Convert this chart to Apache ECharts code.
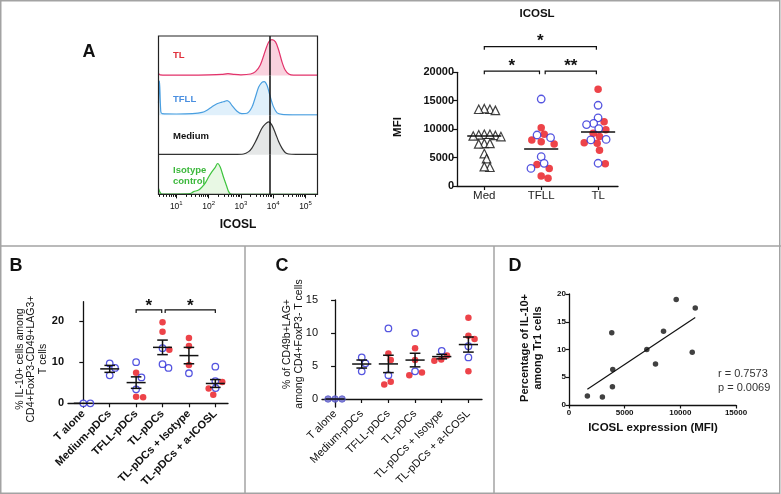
<!DOCTYPE html>
<html><head><meta charset="utf-8">
<script src="https://cdn.jsdelivr.net/npm/echarts@6/dist/echarts.min.js"></script>
<style>html,body{margin:0;padding:0;background:#fff}#c{width:781px;height:494px}</style>
</head><body><div id="c"></div>
<script>
// ================= DATA =================
// Panel A – histograms (x = log10 ICOSL fluorescence, y = normalised count)
const histLabels = ['TL', 'TFLL', 'Medium', 'Isotype\ncontrol'];
const histTL_x = [0.45,0.5,1.0,2.0,2.4,2.6,2.8,3.0,3.3,3.45,3.6,3.76,3.86,3.96,4.07,4.17,4.27,4.37,4.48,4.63,5.0,5.37];
const histTL_y = [0.06,0.02,0.01,0.02,0.03,0.05,0.03,0.02,0.04,0.1,0.27,0.64,0.85,0.91,0.85,0.64,0.35,0.14,0.04,0.01,0.01,0.01];
const histTFLL_x = [0.45,0.48,0.52,0.56,1.0,1.5,1.8,1.95,2.1,2.26,2.41,2.5,2.57,2.65,2.72,2.88,3.03,3.19,3.34,3.45,3.55,3.65,3.72,3.81,3.91,4.01,4.12,4.27,4.6,5.37];
const histTFLL_y = [0.3,0.87,0.1,0.04,0.03,0.04,0.07,0.125,0.21,0.29,0.33,0.35,0.37,0.33,0.25,0.1,0.04,0.05,0.2,0.46,0.71,0.83,0.85,0.75,0.46,0.21,0.06,0.02,0.01,0.01];
const histMed_x = [0.45,1.0,2.0,2.8,3.08,3.24,3.34,3.45,3.55,3.65,3.76,3.86,3.96,4.07,4.17,4.27,4.37,4.48,4.7,5.37];
const histMed_y = [0.01,0.01,0.01,0.01,0.02,0.08,0.17,0.33,0.5,0.67,0.78,0.83,0.75,0.54,0.33,0.17,0.06,0.02,0.01,0.01];
const histIso_x = [0.45,0.5,0.55,1.0,1.43,1.54,1.69,1.8,1.9,2.0,2.1,2.21,2.28,2.36,2.46,2.55,2.62,2.69,3.0,5.37];
const histIso_y = [0.15,0.05,0.01,0.01,0.02,0.07,0.11,0.19,0.29,0.44,0.57,0.69,0.78,0.69,0.44,0.23,0.07,0.01,0,0];
const gateLog = 3.89;
const histTicks = [1, 2, 3, 4, 5];

// Panel A – ICOSL MFI scatter
const aCats = ['Med', 'TFLL', 'TL'];
const aMed = [13500,13300,13600,13500,9100,9000,8900,9100,8800,8700,7500,7500,7400,5700,4800,3300,3400];
const aTFLL_red = [10250,9100,7800,7400,8100,3100,3800,1350,1750];
const aTFLL_blue = [15300,8970,8500,5150,3990,3100];
const aTL_red = [17000,11300,9900,9300,8700,7600,7500,6300,3900];
const aTL_blue = [14200,12000,11000,10800,10100,8200,8100,4000];
const aLines = [8800, 6500, 9500];
const aBrackets = [[1, 1.97, 20200], [2.07, 2.97, 20200], [1, 2.97, 24500]];
const aStars = ['*', '**', '*'];

// Panels B & C
const bcCats = ['T alone','Medium-pDCs','TFLL-pDCs','TL-pDCs','TL-pDCs + Isotype','TL-pDCs + a-ICOSL'];
const bBlue = [[0,0],[9.7,8.6,6.8],[10.0,6.3,3.4],[13.4,8.6,9.5],[7.3],[8.9,5.4,3.7]];
const bRed  = [[],[],[7.4,1.5,1.6],[19.7,17.4,13.0],[15.9,13.9,9.3],[5.2,3.6,2.1]];
const bBrackets = [[2, 2.97, 22.7], [3.1, 5, 22.7]];
const bStars = ['*', '*'];
const bTicks = [0, 10, 20];

const cAlone = [0, 0, 0];
const cBlue = [[],[6.3,5.4,4.2],[10.7,3.6],[10.0,4.2],[7.3],[8.0,6.3]];
const cRed  = [[],[],[6.9,5.9,2.2,2.6],[7.7,5.9,3.6,4.0],[6.6,5.8,6.0],[12.3,9.6,9.1,4.2]];
const cTicks = [0, 5, 10, 15];

// Panel D
const dX = [1650,3000,3840,3930,3900,6990,7770,8490,9630,11070,11340];
const dY = [1.6,1.45,13.0,6.4,3.3,10.0,7.4,13.3,19.0,9.5,17.5];
const dStats = ['r = 0.7573', 'p = 0.0069'];

// ================= LAYOUT / STYLE =================
const FONT = "'Liberation Sans', Arial, Helvetica, sans-serif";
const INK = '#111';
const RED = '#e8141c', BLUE = '#2a2ad8', PURPLE = '#6c6cd0';
const hRows = [36, 75.6, 115.2, 154.8];
const hRowH = 39.6;
const hL = 158.5, hW = 159;
const HX = [0.45, 5.37];
const GA = {left:457, top:72.3, width:161, height:113.7}, AX=[0.52,3.35], AY=[0,20000];
const GB = {left:68, top:301.7, width:160, height:105.3}, BX=[-0.58,5.48], BY=[-0.9,24.7];
const GC = {left:322, top:300, width:160, height:107}, CX=[-0.49,5.51], CY=[-1.21,15];
const GD = {left:569, top:294, width:167, height:111};

const zip = (xs, ys) => xs.map((x, i) => [x, ys[i]]);
const mean = a => a.reduce((s, v) => s + v, 0) / a.length;
const sem = a => { if (a.length < 2) return 0; const m = mean(a); return Math.sqrt(a.reduce((s,v)=>s+(v-m)*(v-m),0)/(a.length-1))/Math.sqrt(a.length); };

// beeswarm: offsets (in x-units) so markers of diameter d (px) don't overlap
function swarm(vals, unitX, unitY, d) {
  const idx = vals.map((v, i) => i).sort((a, b) => vals[b] - vals[a]);
  const placed = [], off = new Array(vals.length).fill(0);
  for (const i of idx) {
    const y = vals[i] * unitY, cands = [0];
    for (const p of placed) { const dy = Math.abs(p.y - y); if (dy < d) { const dx = Math.sqrt(d*d - dy*dy) + 0.01; cands.push(p.x + dx, p.x - dx); } }
    cands.sort((a, b) => Math.abs(a) - Math.abs(b));
    let best = 0;
    for (const c of cands) { if (placed.every(p => (p.x-c)*(p.x-c) + (p.y-y)*(p.y-y) >= d*d - 0.02)) { best = c; break; } }
    placed.push({x: best, y}); off[i] = best / unitX;
  }
  return off;
}
function layoutGroups(groups, catX, unitX, unitY, d) {
  const out = {};
  groups.forEach((g, k) => {
    const items = [];
    Object.keys(g).forEach(cls => g[cls].forEach(v => items.push({cls, v})));
    const dd = typeof d === 'function' ? d(k) : d;
    const off = swarm(items.map(it => it.v), unitX, unitY, dd);
    items.forEach((it, i) => { (out[it.cls] = out[it.cls] || []).push([catX(k) + off[i], it.v]); });
  });
  return out;
}

const aUX = GA.width / (AX[1]-AX[0]), aUY = GA.height / (AY[1]-AY[0]);
const aPts = layoutGroups([{tri: aMed}, {red: aTFLL_red, blue: aTFLL_blue}, {red: aTL_red, blue: aTL_blue}], k => k + 1, aUX, aUY, k => k === 0 ? 5.6 : 7.2);
const bUX = GB.width / (BX[1]-BX[0]), bUY = GB.height / (BY[1]-BY[0]);
const bPts = layoutGroups(bcCats.map((c, k) => ({blue: bBlue[k], red: bRed[k]})), k => k, bUX, bUY, 7);
const cUX = GC.width / (CX[1]-CX[0]), cUY = GC.height / (CY[1]-CY[0]);
const cPts = layoutGroups(bcCats.map((c, k) => k === 0 ? {alone: cAlone} : ({blue: cBlue[k], red: cRed[k]})), k => k, cUX, cUY, 7);

const bAll = bcCats.map((c, k) => bBlue[k].concat(bRed[k]));
const cAll = bcCats.map((c, k) => k === 0 ? cAlone : cBlue[k].concat(cRed[k]));
const bStats = bAll.map((a, k) => [k, mean(a), sem(a)]);
const cStats = cAll.map((a, k) => [k, mean(a), sem(a)]);

// regression for D
const mx = mean(dX), my = mean(dY);
const slope = dX.reduce((s, x, i) => s + (x-mx)*(dY[i]-my), 0) / dX.reduce((s, x) => s + (x-mx)*(x-mx), 0);
const x0 = Math.min(...dX), x1 = Math.max(...dX);
const dLine = [[x0, my + slope*(x0-mx)], [x1, my + slope*(x1-mx)]];

// minor log ticks
const minorTicks = [];
for (let dcd = 0; dcd <= 5; dcd++) for (let k = 2; k <= 9; k++) { const v = dcd + Math.log10(k); if (v > HX[0] && v < HX[1]) minorTicks.push(v); }

// ================= OPTION =================
const lblBold = (size) => ({color: INK, fontFamily: FONT, fontWeight: 'bold', fontSize: size});
const axLine = {show: true, lineStyle: {color: INK, width: 1.3}};
const plain = v => String(v);

const grids = hRows.map(t => ({left: hL, top: t, width: hW, height: hRowH})).concat([GA, GB, GC, GD]);

const xAxes = [];
for (let i = 0; i < 4; i++) {
  xAxes.push({type: 'value', gridIndex: i, min: HX[0], max: HX[1], show: i === 3,
    axisLine: {show: false}, splitLine: {show: false},
    axisTick: {show: i === 3, customValues: histTicks, length: 4, lineStyle: {color: INK}},
    axisLabel: {show: i === 3, customValues: histTicks, margin: 6, color: INK, fontFamily: FONT,
      formatter: v => '{b|10}{s|' + Math.round(v) + '}',
      rich: {b: {fontSize: 8.5, fontFamily: FONT, color: INK}, s: {fontSize: 6, fontFamily: FONT, color: INK, padding: [0,0,7,0]}}}});
}
xAxes.push({type: 'value', gridIndex: 3, min: HX[0], max: HX[1], position: 'bottom', axisLine: {show: false}, splitLine: {show: false},
  axisTick: {show: true, customValues: minorTicks, length: 2.5, lineStyle: {color: INK}}, axisLabel: {show: false}});
xAxes.push({type: 'value', gridIndex: 4, min: AX[0], max: AX[1], axisLine: axLine, splitLine: {show: false},
  axisTick: {customValues: [1,2,3], length: 4, lineStyle: {color: INK, width: 1.2}},
  axisLabel: {customValues: [1,2,3], formatter: v => aCats[Math.round(v)-1], color: '#222', fontFamily: FONT, fontSize: 11.5, margin: 4}});
xAxes.push({type: 'value', gridIndex: 5, min: BX[0], max: BX[1], axisLine: axLine, splitLine: {show: false},
  axisTick: {customValues: [0,1,2,3,4,5], length: 4, lineStyle: {color: INK, width: 1.2}},
  axisLabel: {customValues: [0,1,2,3,4,5], formatter: v => bcCats[Math.round(v)], rotate: 45, margin: 5, ...lblBold(11)}});
xAxes.push({type: 'value', gridIndex: 6, min: CX[0], max: CX[1], axisLine: axLine, splitLine: {show: false},
  axisTick: {customValues: [0,1,2,3,4,5], length: 4, lineStyle: {color: INK, width: 1.2}},
  axisLabel: {customValues: [0,1,2,3,4,5], formatter: v => bcCats[Math.round(v)], rotate: 45, margin: 5, color: INK, fontFamily: FONT, fontSize: 11}});
xAxes.push({type: 'value', gridIndex: 7, min: 0, max: 15000, interval: 5000, axisLine: axLine, splitLine: {show: false},
  axisTick: {length: 3.5, lineStyle: {color: INK, width: 1.2}}, axisLabel: {margin: 4, formatter: plain, ...lblBold(8)}});

const yAxes = [];
for (let i = 0; i < 4; i++) yAxes.push({type: 'value', gridIndex: i, min: 0, max: 1, show: false});
yAxes.push({type: 'value', gridIndex: 4, min: AY[0], max: AY[1], interval: 5000, axisLine: axLine, splitLine: {show: false},
  axisTick: {show: true, length: 4, lineStyle: {color: INK, width: 1.2}}, axisLabel: {margin: 3, formatter: plain, ...lblBold(11)}});
yAxes.push({type: 'value', gridIndex: 5, min: BY[0], max: BY[1], axisLine: axLine, splitLine: {show: false},
  axisTick: {show: true, customValues: bTicks, length: 4, lineStyle: {color: INK, width: 1.2}}, axisLabel: {customValues: bTicks, margin: 4, ...lblBold(11)}});
yAxes.push({type: 'value', gridIndex: 6, min: CY[0], max: CY[1], axisLine: axLine, splitLine: {show: false},
  axisTick: {show: true, customValues: cTicks, length: 4, lineStyle: {color: INK, width: 1.2}}, axisLabel: {customValues: cTicks, margin: 4, color: INK, fontFamily: FONT, fontSize: 11}});
yAxes.push({type: 'value', gridIndex: 7, min: 0, max: 20, interval: 5, axisLine: axLine, splitLine: {show: false},
  axisTick: {show: true, length: 3.5, lineStyle: {color: INK, width: 1.2}}, axisLabel: {margin: 3, ...lblBold(8)}});

const histSeries = [
  {x: histTL_x, y: histTL_y, line: '#e2336b', fill: '#f9d2de'},
  {x: histTFLL_x, y: histTFLL_y, line: '#4a9fe0', fill: '#e0f0fb'},
  {x: histMed_x, y: histMed_y, line: '#333333', fill: '#e5e7e7'},
  {x: histIso_x, y: histIso_y, line: '#3ec43e', fill: '#e8f8e4'}
].map((h, i) => ({
  type: 'line', xAxisIndex: i, yAxisIndex: i, data: zip(h.x, h.y), smooth: 0.3, symbol: 'none',
  lineStyle: {color: h.line, width: 1.2}, areaStyle: {color: h.fill, opacity: 1},
  markLine: {silent: true, symbol: ['none', 'none'], label: {show: false}, lineStyle: {color: INK, width: 1.5, type: 'solid'}, data: [{xAxis: gateLog}]}
}));

function errRender(halfMean, halfCap) {
  return (params, api) => {
    const x = api.value(0), m = api.value(1), s = api.value(2);
    const c = api.coord([x, m]), t = api.coord([x, m + s]), b = api.coord([x, m - s]);
    const hw = api.size([halfMean, 0])[0], hc = api.size([halfCap, 0])[0];
    const st = {stroke: INK, lineWidth: 1.5};
    const ch = [{type: 'line', shape: {x1: c[0]-hw, y1: c[1], x2: c[0]+hw, y2: c[1]}, style: st}];
    if (s > 0) {
      ch.push({type: 'line', shape: {x1: c[0], y1: t[1], x2: c[0], y2: b[1]}, style: st});
      ch.push({type: 'line', shape: {x1: c[0]-hc, y1: t[1], x2: c[0]+hc, y2: t[1]}, style: st});
      ch.push({type: 'line', shape: {x1: c[0]-hc, y1: b[1], x2: c[0]+hc, y2: b[1]}, style: st});
    }
    return {type: 'group', children: ch};
  };
}
function bracketRender(stars, drop, fs, lift) {
  return (params, api) => {
    const a = api.coord([api.value(0), api.value(2)]), b = api.coord([api.value(1), api.value(2)]);
    return {type: 'group', children: [
      {type: 'polyline', shape: {points: [[a[0], a[1]+drop], [a[0], a[1]], [b[0], b[1]], [b[0], b[1]+drop]]}, style: {stroke: INK, lineWidth: 1.2, fill: null}},
      {type: 'text', x: (a[0]+b[0])/2, y: a[1] - lift, style: {text: stars[params.dataIndex], fill: INK, font: 'bold ' + fs + 'px ' + FONT, align: 'center', verticalAlign: 'middle', textAlign: 'center', textVerticalAlign: 'middle'}}
    ]};
  };
}
const openCircle = (size) => ({symbol: 'circle', symbolSize: size, itemStyle: {color: '#fff', borderColor: BLUE, borderWidth: 1.3}});
const redCircle = (size) => ({symbol: 'circle', symbolSize: size, itemStyle: {color: RED}});

const series = histSeries.concat([
  {type: 'scatter', xAxisIndex: 5, yAxisIndex: 4, data: aPts.tri, symbol: 'triangle', symbolSize: 8.5, itemStyle: {color: '#fff', borderColor: INK, borderWidth: 1.2}},
  {type: 'scatter', xAxisIndex: 5, yAxisIndex: 4, data: aPts.red, ...redCircle(7.5)},
  {type: 'scatter', xAxisIndex: 5, yAxisIndex: 4, data: aPts.blue, ...openCircle(7.5)},
  {type: 'custom', xAxisIndex: 5, yAxisIndex: 4, data: aLines.map((v, k) => [k+1, v, 0]), renderItem: errRender(0.3, 0), z: 5},
  {type: 'custom', xAxisIndex: 5, yAxisIndex: 4, data: aBrackets, renderItem: bracketRender(aStars, 3, 17, 5), clip: false},
  {type: 'scatter', xAxisIndex: 6, yAxisIndex: 5, data: bPts.red, ...redCircle(6.5)},
  {type: 'scatter', xAxisIndex: 6, yAxisIndex: 5, data: bPts.blue, ...openCircle(6.5)},
  {type: 'custom', xAxisIndex: 6, yAxisIndex: 5, data: bStats, renderItem: errRender(0.36, 0.2), z: 5},
  {type: 'custom', xAxisIndex: 6, yAxisIndex: 5, data: bBrackets, renderItem: bracketRender(bStars, 3, 17, 4), clip: false},
  {type: 'scatter', xAxisIndex: 7, yAxisIndex: 6, data: cPts.alone, symbol: 'circle', symbolSize: 6.5, itemStyle: {color: PURPLE, borderColor: '#5555c8', borderWidth: 1}},
  {type: 'scatter', xAxisIndex: 7, yAxisIndex: 6, data: cPts.red, ...redCircle(6.5)},
  {type: 'scatter', xAxisIndex: 7, yAxisIndex: 6, data: cPts.blue, ...openCircle(6.5)},
  {type: 'custom', xAxisIndex: 7, yAxisIndex: 6, data: cStats, renderItem: errRender(0.36, 0.2), z: 5},
  {type: 'scatter', xAxisIndex: 8, yAxisIndex: 7, data: zip(dX, dY), symbol: 'circle', symbolSize: 5.5, itemStyle: {color: INK}},
  {type: 'line', xAxisIndex: 8, yAxisIndex: 7, data: dLine, symbol: 'none', lineStyle: {color: INK, width: 1.2}}
]);

const txt = (x, y, text, font, fill, extra) => Object.assign({type: 'text', x, y, silent: true,
  style: Object.assign({text, font, fill: fill || INK, align: 'center', verticalAlign: 'middle', textAlign: 'center', textVerticalAlign: 'middle'}, extra || {})});
const rtxt = (x, y, text, font, lh) => Object.assign(txt(x, y, text, font, INK, {lineHeight: lh}), {rotation: Math.PI / 2});
const border = {stroke: '#a3a3a3', lineWidth: 1.5};
const left = {align: 'left', textAlign: 'left'};

const graphics = [
  {type: 'rect', shape: {x: 0.75, y: 0.75, width: 779, height: 492.5}, style: Object.assign({fill: null}, border), silent: true},
  {type: 'line', shape: {x1: 0, y1: 246, x2: 781, y2: 246}, style: border, silent: true},
  {type: 'line', shape: {x1: 245, y1: 246, x2: 245, y2: 494}, style: border, silent: true},
  {type: 'line', shape: {x1: 494, y1: 246, x2: 494, y2: 494}, style: border, silent: true},
  {type: 'rect', shape: {x: hL, y: hRows[0], width: hW, height: hRowH*4}, style: {fill: null, stroke: '#222', lineWidth: 1.2}, silent: true, z: 10},
  txt(89, 52, 'A', 'bold 18px ' + FONT),
  txt(16, 266, 'B', 'bold 18px ' + FONT),
  txt(282, 266, 'C', 'bold 18px ' + FONT),
  txt(515, 266, 'D', 'bold 18px ' + FONT),
  txt(173, 55, histLabels[0], 'bold 9.5px ' + FONT, '#e0303c', left),
  txt(173, 99, histLabels[1], 'bold 9.5px ' + FONT, '#4a8fe0', left),
  txt(173, 136, histLabels[2], 'bold 9.5px ' + FONT, INK, left),
  txt(173, 176, histLabels[3], 'bold 9.5px ' + FONT, '#3cb83c', Object.assign({lineHeight: 11.5}, left)),
  txt(238, 225, 'ICOSL', 'bold 12px ' + FONT),
  txt(537, 14, 'ICOSL', 'bold 11.5px ' + FONT),
  rtxt(398, 127, 'MFI', 'bold 11.5px ' + FONT, 13),
  rtxt(31.5, 359, '% IL-10+ cells among\nCD4+FoxP3-CD49+LAG3+\nT cells', '10.5px ' + FONT, 11.8),
  rtxt(293, 344, '% of CD49b+LAG+\namong CD4+FoxP3- T cells', '10.5px ' + FONT, 12.5),
  rtxt(531.5, 348, 'Percentage of IL-10+\namong Tr1 cells', 'bold 11px ' + FONT, 13),
  txt(653, 428, 'ICOSL expression (MFI)', 'bold 11.5px ' + FONT),
  txt(718, 374, dStats[0], '11px ' + FONT, '#333', left),
  txt(718, 388, dStats[1], '11px ' + FONT, '#333', left)
];

const option = {
  animation: false,
  backgroundColor: '#fff',
  textStyle: {fontFamily: FONT},
  grid: grids,
  xAxis: xAxes,
  yAxis: yAxes,
  series: series,
  graphic: graphics
};
const chart = echarts.init(document.getElementById('c'));
chart.setOption(option);
</script></body></html>
